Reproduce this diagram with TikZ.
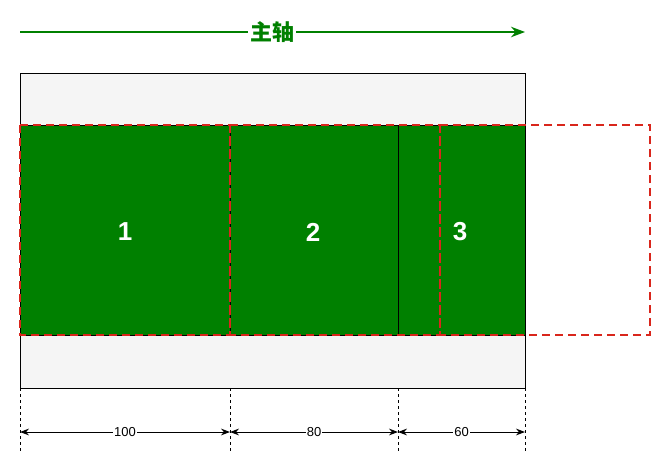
\documentclass[tikz,border=0pt]{standalone}
\usepackage{fontspec}
\setmainfont{Liberation Sans}
\newfontfamily\cjk{Noto Sans CJK SC}
\usetikzlibrary{arrows.meta}
\definecolor{gr}{HTML}{008000}
\definecolor{rd}{HTML}{D9261C}
\definecolor{lg}{HTML}{F5F5F5}
\begin{document}
\begin{tikzpicture}[x=1pt,y=-1pt,
  redbox/.style={draw=rd,dashed,line width=2.2pt,dash pattern=on 8pt off 5pt},
  num/.style={text=white,font=\bfseries\fontsize{26}{30}\selectfont},
  dim/.style={{Stealth[length=9pt]}-{Stealth[length=9pt]},line width=1pt},
  guide/.style={dashed,line width=0.8pt},
  lbl/.style={fill=white,inner sep=1pt,font=\fontsize{13}{15}\selectfont}]
\useasboundingbox (0,0) rectangle (671,458);
\fill[lg] (20,73) rectangle (525,388);
\fill[gr] (20,125) rectangle (525,335);
\draw[line width=0.8pt] (20,73) rectangle (525,388);
\draw[line width=0.8pt] (20,125) -- (525,125) (20,335) -- (525,335);
\draw[line width=0.8pt] (230,125) -- (230,335) (398,125) -- (398,335);
\draw[redbox] (20,125) rectangle (230,335);
\draw[redbox] (230,125) rectangle (440,335);
\draw[redbox] (440,125) rectangle (650,335);
\node[num] (n1) at (125,232) {1};
\node[num] (n2) at (313,232) {2};
\node[num] (n3) at (460,232) {3};
\coordinate (a0) at (20,32); \coordinate (a1) at (525,32);
\draw[gr,line width=1.5pt,-{Stealth[length=14pt]}] (a0) -- (a1);
\node[fill=white,inner sep=2pt,text=gr,font=\cjk\bfseries\fontsize{22}{26}\selectfont] (ax) at (272,32) {主轴};
\foreach \x/\n in {20/g0,230/g1,398/g2,525/g3}{
  \coordinate (\n t) at (\x,388); \coordinate (\n b) at (\x,452);
  \draw[guide] (\n t) -- (\n b);
  \coordinate (\n m) at (\x,432);}
\draw[dim] (g0m) -- node[lbl]{100} (g1m);
\draw[dim] (g1m) -- node[lbl]{80} (g2m);
\draw[dim] (g2m) -- node[lbl]{60} (g3m);
\end{tikzpicture}
\end{document}
